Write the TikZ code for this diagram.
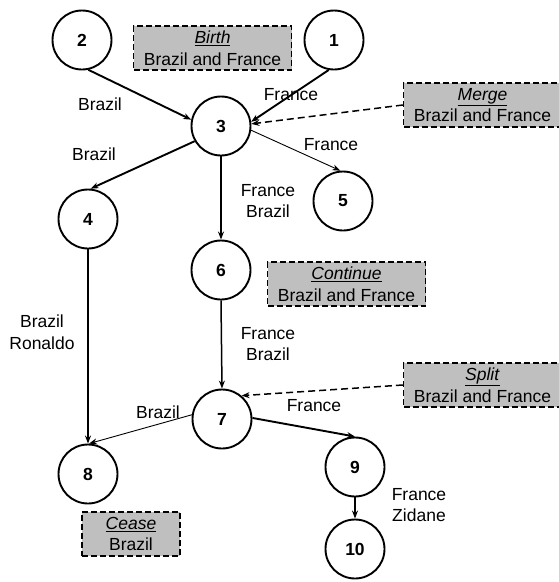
\documentclass[tikz,border=0pt]{standalone}
\usepackage{fontspec}
\setmainfont{Liberation Sans}
\usetikzlibrary{arrows.meta}
\begin{document}
\begin{tikzpicture}[x=1pt,y=-1pt,
  every node/.style={font=\fontsize{17.5}{21.5}\selectfont},
  state/.style={circle,draw,line width=1.9pt,minimum size=59pt,inner sep=0pt,font=\fontsize{17.5}{21}\selectfont\bfseries},
  event/.style={draw,dash pattern=on 6pt off 3pt,line width=1.2pt,fill=black!25,minimum width=158pt,minimum height=44pt,inner sep=1pt,align=center},
  lbl/.style={align=center,inner sep=0pt},
  thickarr/.style={-{Stealth[length=8pt,width=6pt]},line width=1.9pt},
  medarr/.style={-{Stealth[length=8pt,width=6pt]},line width=1.5pt},
  thinarr/.style={-{Stealth[length=8pt,width=6pt]},line width=0.9pt},
  evarr/.style={-{Stealth[length=8pt,width=6pt]},dash pattern=on 7pt off 4pt,line width=1.5pt}]
\useasboundingbox (0,0) rectangle (559,582);
% states
\node[state] (n2) at (82,40) {2};
\node[state] (n1) at (334,40) {1};
\node[state] (n3) at (221,126) {3};
\node[state] (n4) at (88,219) {4};
\node[state] (n5) at (343,201) {5};
\node[state] (n6) at (221,270) {6};
\node[state] (n7) at (222,419) {7};
\node[state] (n8) at (88,474) {8};
\node[state] (n9) at (355,467) {9};
\node[state] (n10) at (355,549) {10};
% events
\node[event] (birth) at (212.5,48) {\underline{\textit{Birth}}\\Brazil and France};
\node[event] (merge) at (482.5,105) {\underline{\textit{Merge}}\\Brazil and France};
\node[event] (cont) at (346.5,284) {\underline{\textit{Continue}}\\Brazil and France};
\node[event] (split) at (482.5,385) {\underline{\textit{Split}}\\Brazil and France};
\node[event,minimum width=98pt] (cease) at (131,534) {\underline{\textit{Cease}}\\Brazil};
% edges
\draw[thickarr] (n2.-78) -- (n3.168);
\draw[thickarr] (n1.-100) -- (n3.8);
\draw[thickarr] (n3.-150) -- (n4.85);
\draw[thinarr] (n3.-8) -- (n5.95);
\draw[medarr] (n3.south) -- (n6.north);
\draw[medarr] (n6.south) -- (n7.north);
\draw[thickarr] (n4.south) -- (n8.north);
\draw[thinarr] (n7.172) -- (n8.88);
\draw[thickarr] (n7.2) -- (n9.north);
\draw[thickarr] (n9.south) -- (n10.north);
\draw[evarr] (merge.west) -- (n3.4);
\draw[evarr] (split.west) -- (n7.50);
% labels
\node[lbl] (l1) at (100,104) {Brazil};
\node[lbl] (l2) at (291,95) {France};
\node[lbl] (l3) at (94,154) {Brazil};
\node[lbl] (l4) at (331,145) {France};
\node[lbl] (l5) at (268,201) {France\\Brazil};
\node[lbl] (l6) at (42,332) {Brazil\\Ronaldo};
\node[lbl] (l7) at (268,344) {France\\Brazil};
\node[lbl] (l8) at (158,412) {Brazil};
\node[lbl] (l9) at (314,406) {France};
\node[lbl] (l10) at (419,505) {France\\Zidane};
\end{tikzpicture}
\end{document}
